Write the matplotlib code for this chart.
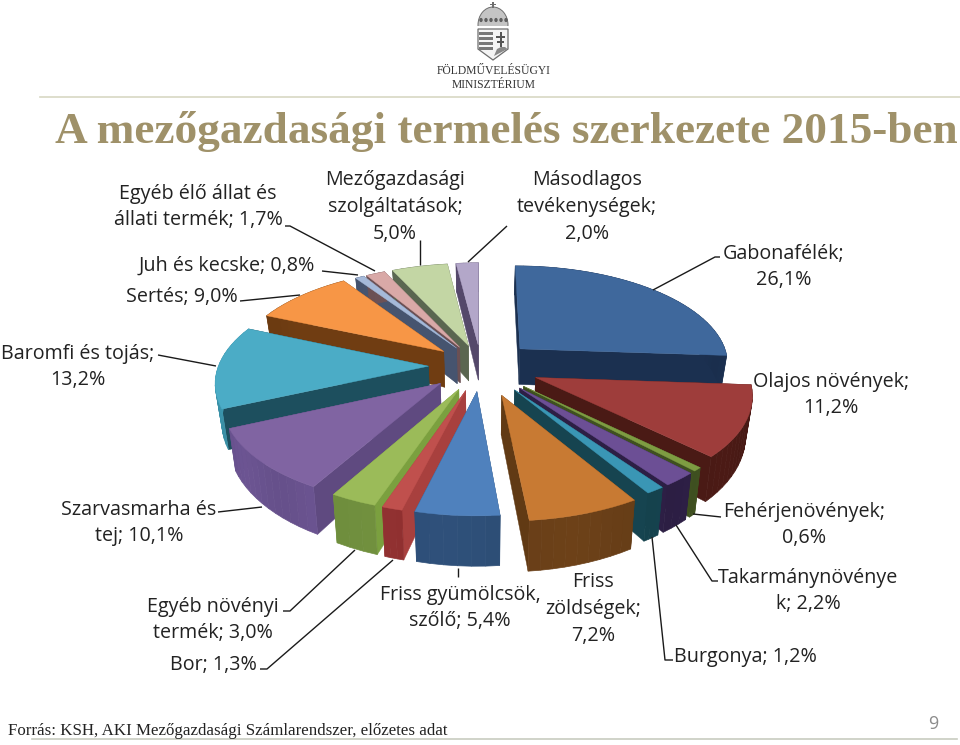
import numpy as np
import matplotlib
matplotlib.use("Agg")
import matplotlib.pyplot as plt
from matplotlib.patches import Polygon, Rectangle, Ellipse

# ---- data ----
categories = ["Gabonafélék", "Olajos növények", "Fehérjenövények", "Takarmánynövények",
              "Burgonya", "Friss zöldségek", "Friss gyümölcsök, szőlő", "Bor",
              "Egyéb növényi termék", "Szarvasmarha és tej", "Baromfi és tojás", "Sertés",
              "Juh és kecske", "Egyéb élő állat és állati termék",
              "Mezőgazdasági szolgáltatások", "Másodlagos tevékenységek"]
values = [26.1, 11.2, 0.6, 2.2, 1.2, 7.2, 5.4, 1.3, 3.0, 10.1, 13.2, 9.0, 0.8, 1.7, 5.0, 2.0]
explode = [.26, .28, .28, .28, .28, .30, .25, .25, .25, .255, .25, .235, .22, .22, .22, .22]
top_colors = ["#3F689C", "#9E3D3B", "#7E9C42", "#6C4F95", "#3A96B5", "#C87A33", "#4F81BD", "#C0504D",
              "#9BBB59", "#8064A2", "#4BACC6", "#F79646", "#A5B9D9", "#D9A9A7", "#C3D6A4", "#B3A7C9"]
cut_colors = ["#1B3050", "#4A1A15", "#3F5020", "#2D1F45", "#164450", "#613A14", "#2E4F78", "#A8403E",
              "#7BA03F", "#5F4A80", "#1D4F5E", "#703D12", "#46546F", "#6B5054", "#5A6650", "#54486A"]
wall_colors = ["#1B3050", "#4A1A15", "#3F5020", "#2D1F45", "#164450", "#6B4018", "#2E4F78", "#8F3030",
               "#6F8E3D", "#6A5390", "#3A93AA", "#703D12", "#46546F", "#6B5054", "#5A6650", "#54486A"]

labels = [("Egyéb élő állat és\nállati termék; 1,7%", 198, 207),
          ("Juh és kecske; 0,8%", 227, 266),
          ("Sertés; 9,0%", 182, 297),
          ("Mezőgazdasági\nszolgáltatások;\n5,0%", 395, 207),
          ("Másodlagos\ntevékenységek;\n2,0%", 587, 207),
          ("Gabonafélék;\n26,1%", 784, 267),
          ("Baromfi és tojás;\n13,2%", 78, 367),
          ("Olajos növények;\n11,2%", 831, 395),
          ("Szarvasmarha és\ntej; 10,1%", 139, 523),
          ("Fehérjenövények;\n0,6%", 804, 525),
          ("Takarmánynövénye\nk; 2,2%", 808, 591),
          ("Burgonya; 1,2%", 745, 657),
          ("Friss\nzöldségek;\n7,2%", 593, 609),
          ("Friss gyümölcsök,\nszőlő; 5,4%", 460, 608),
          ("Egyéb növényi\ntermék; 3,0%", 213, 620),
          ("Bor; 1,3%", 213, 665)]
leaders = [[(285, 226), (290, 226), (375, 271)], [(322, 271), (358, 275)], [(240, 301), (300, 295)],
           [(420, 240), (420, 265)], [(468, 262), (507, 226)], [(653, 290), (715, 257), (720, 257)],
           [(158, 355), (216, 366)], [(218, 512), (262, 507)], [(693, 514), (721, 517)],
           [(676, 525), (712, 581), (718, 581)], [(652, 537), (665, 660), (673, 660)],
           [(458, 568), (458, 577)], [(283, 611), (290, 611), (355, 550)],
           [(260, 669), (267, 669), (393, 560)]]

title = "A mezőgazdasági termelés szerkezete 2015-ben"
source = "Forrás: KSH, AKI Mezőgazdasági Számlarendszer, előzetes adat"

# ---- projection ----
CX, CY, R, A, P, H = 481, 366, 210, 99, 0.14, 37.0


def project(X, Y, z=0.0):
    s = 1 / (1 - P * Y)
    sx = CX + R * X * s
    sy = CY + A * Y * s
    if z:
        sx = CX + (sx - CX) * 0.975
        sy = sy + H * s ** 1.6
    return sx, sy


fig = plt.figure(figsize=(9.6, 7.45), dpi=100, facecolor="white")
ax = fig.add_axes([0, 0, 1, 1])
ax.set_xlim(0, 960)
ax.set_ylim(745, 0)
ax.axis("off")

fractions = np.array(values) / sum(values) * 2 * np.pi
ends = np.cumsum(fractions)
starts = ends - fractions


def shade(col, f):
    c = np.array(matplotlib.colors.to_rgb(col)) * f
    return tuple(np.clip(c, 0, 1))


slices = []
for i in range(len(values)):
    mid = (starts[i] + ends[i]) / 2
    ex, ey = explode[i] * np.sin(mid), -explode[i] * np.cos(mid)
    th = np.linspace(starts[i], ends[i], max(4, int(fractions[i] / np.radians(2.5))))
    arc = [(ex + np.sin(t), ey - np.cos(t)) for t in th]
    slices.append((ey, i, ex, ey, arc))
slices.sort(key=lambda q: q[0])

for _, i, ex, ey, arc in slices:
    tip_t = project(ex, ey)
    tip_b = project(ex, ey, 1)
    top = [project(*p) for p in arc]
    bot = [project(*p, 1) for p in arc]
    z = 2 + 0.01 * ey
    # radial cut faces first, the outer wall over them, the top face last
    ax.add_patch(Polygon([tip_t, top[0], bot[0], tip_b], fc=cut_colors[i], ec=cut_colors[i], lw=0.3, zorder=z))
    ax.add_patch(Polygon([tip_t, top[-1], bot[-1], tip_b], fc=cut_colors[i], ec=cut_colors[i], lw=0.3, zorder=z))
    for j in range(len(arc) - 1):
        c = shade(wall_colors[i], 0.99 + 0.025 * np.sin(j * 0.55 + i))
        ax.add_patch(Polygon([top[j], top[j + 1], bot[j + 1], bot[j]], fc=c, ec=c, lw=0.5, zorder=z + 0.0002))
    ax.add_patch(Polygon([tip_t] + top, fc=top_colors[i], ec=top_colors[i], lw=0.3, zorder=z + 0.0005))

# ---- leaders and labels ----
for pts in leaders:
    xs, ys = zip(*pts)
    ax.plot(xs, ys, color="#1a1a1a", lw=1.0, zorder=5, solid_capstyle="butt")
for text, x, y in labels:
    ax.text(x, y, text, ha="center", va="center", family="Open Sans", fontsize=14.2,
            color="#222222", linespacing=1.46, zorder=6)

# ---- title, frame, footer ----
ax.text(55, 131, title, family="Liberation Serif", weight="bold", fontsize=32.6, color="#9F9169",
        ha="left", va="center", zorder=6)
ax.plot([40, 960], [97, 97], color="#D8D8C4", lw=1.2, zorder=1)
ax.plot([32, 957], [739, 739], color="#C8CCC0", lw=1.2, zorder=1)
ax.text(8, 731, source, family="Liberation Serif", fontsize=12.2, color="#222222", ha="left", va="center", zorder=6)
ax.text(933, 724, "9", family="Open Sans", fontsize=13, color="#8C8C8C", ha="center", va="center")

# ---- ministry crest ----
gr = "#6E6E6E"
ax.add_patch(Ellipse((493, 25), 30, 36, fc="#C4C4C4", ec=gr, lw=0.7))
ax.add_patch(Rectangle((476, 26), 34, 6, fc="white", ec="none"))
for x in range(481, 508, 5):
    ax.add_patch(Ellipse((x, 20), 3.4, 4.2, fc="#5E5E5E", ec="none"))
ax.add_patch(Rectangle((492, 2), 2.4, 6, fc=gr, ec="none"))
ax.add_patch(Rectangle((490, 3.5), 6.4, 1.8, fc=gr, ec="none"))
ax.add_patch(Polygon([(478, 29), (508, 29), (508, 49), (493, 60), (478, 49)], fc="#F4F4F4", ec=gr, lw=0.9))
for y in (32, 37, 42, 47):
    ax.add_patch(Rectangle((479, y), 13.5, 2.5, fc="#777777", ec="none"))
ax.add_patch(Rectangle((499.5, 32), 2, 15, fc="#555555", ec="none"))
ax.add_patch(Rectangle((496, 36), 9, 1.6, fc="#555555", ec="none"))
ax.add_patch(Rectangle((497, 41), 7, 1.6, fc="#555555", ec="none"))
ax.add_patch(Polygon([(494, 56), (497, 49), (501, 47), (505, 47), (507.5, 49)], fc="#888888", ec="none"))
ax.text(493.5, 71, "FÖLDMŰVELÉSÜGYI", family="Liberation Serif", fontsize=8.4, color="#333333", ha="center", va="center")
ax.text(493.5, 85, "MINISZTÉRIUM", family="Liberation Serif", fontsize=8.4, color="#333333", ha="center", va="center")

fig.savefig("out.png", dpi=100, facecolor="white")
